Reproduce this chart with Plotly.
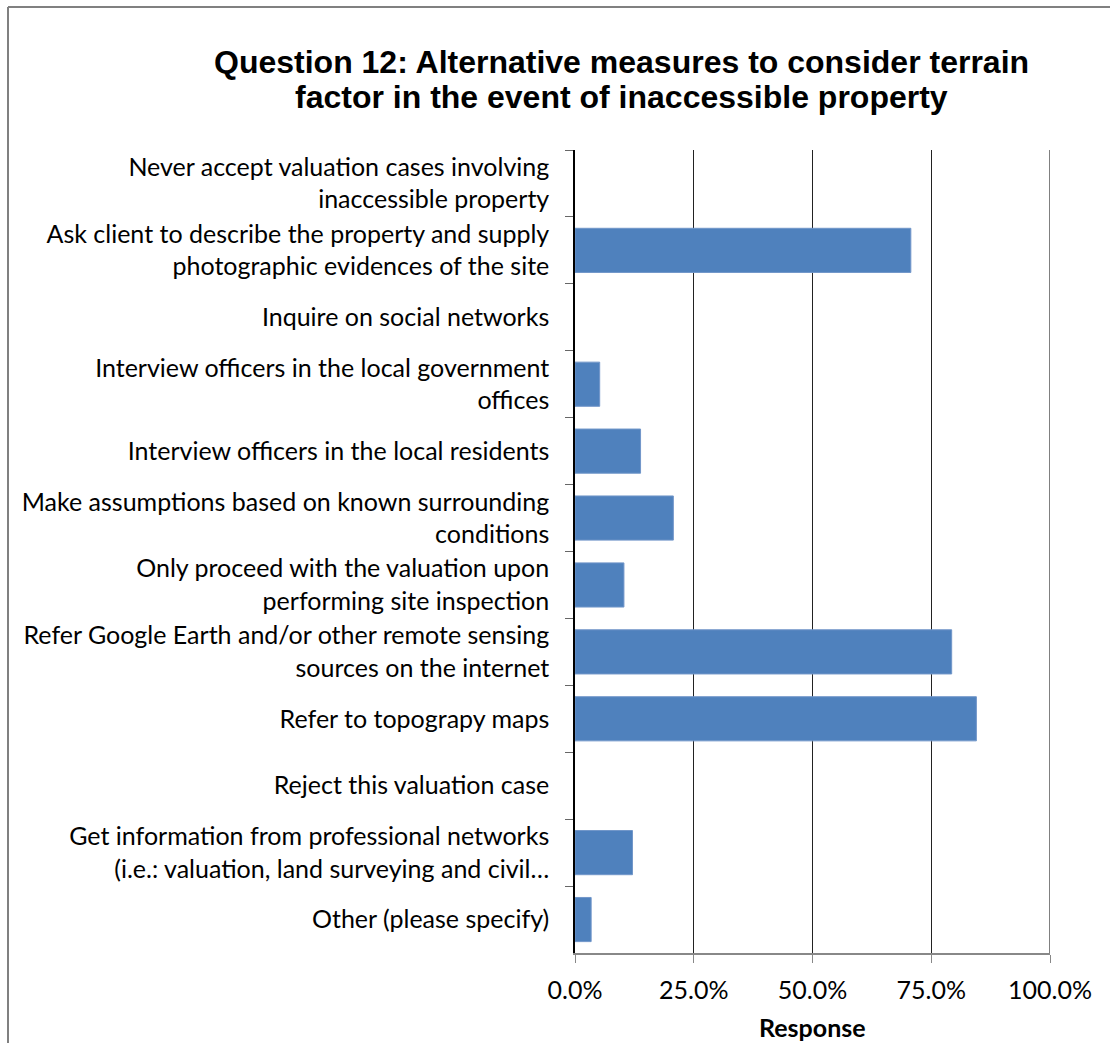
import plotly.graph_objects as go

# Survey responses (share of respondents, %), listed top to bottom
categories = [
    "Never accept valuation cases involving<br>inaccessible property",
    "Ask client to describe the property and supply<br>photographic evidences of the site",
    "Inquire on social networks",
    "Interview officers in the local government<br>offices",
    "Interview officers in the local residents",
    "Make assumptions based on known surrounding<br>conditions",
    "Only proceed with the valuation upon<br>performing site inspection",
    "Refer Google Earth and/or other remote sensing<br>sources on the internet",
    "Refer to topograpy maps",
    "Reject this valuation case",
    "Get information from professional networks<br>(i.e.: valuation, land surveying and civil…",
    "Other (please specify)",
]
response_pct = [0.0, 70.7, 0.0, 5.2, 13.8, 20.7, 10.3, 79.3, 84.5, 0.0, 12.1, 3.4]

x_ticks = [0, 25, 50, 75, 100]
x_tick_labels = ["0.0%", "25.0%", "50.0%", "75.0%", "100.0%"]

title_lines = [
    "Question 12: Alternative measures to consider terrain",
    "factor in the event of inaccessible property",
]
x_title = "Response"

W, H = 1110, 1043
ML, MR, MT, MB = 575, 60, 150, 90
plot_w = W - ML - MR
plot_h = H - MT - MB


def px_x(x):
    return (x - ML) / plot_w


def px_y(y):
    return (H - MB - y) / plot_h


label_font = "Lato, 'Open Sans', sans-serif"
label_size = 25

# no outline on empty bars so nothing is drawn for zero responses
outline_widths = [1 if v > 0 else 0 for v in response_pct]

fig = go.Figure(
    go.Bar(
        x=response_pct,
        y=categories,
        orientation="h",
        marker=dict(color="#4F81BD", line=dict(color="#7196C9", width=outline_widths)),
        hoverinfo="x+y",
    )
)

fig.update_layout(
    width=W,
    height=H,
    margin=dict(l=ML, r=MR, t=MT, b=MB),
    paper_bgcolor="white",
    plot_bgcolor="white",
    bargap=0.34,
    showlegend=False,
    font=dict(family=label_font, size=label_size, color="black"),
)

fig.update_xaxes(
    range=[0, 100],
    tickvals=x_ticks,
    ticktext=x_tick_labels,
    showgrid=True,
    gridcolor="#222222",
    gridwidth=1,
    zeroline=False,
    showline=True,
    linecolor="#888888",
    linewidth=1.5,
    ticks="outside",
    ticklen=8,
    tickcolor="#888888",
    ticklabelstandoff=6,
    tickfont=dict(family=label_font, size=label_size, color="black"),
    fixedrange=True,
)

fig.update_yaxes(
    type="category",
    categoryorder="array",
    categoryarray=categories,
    autorange="reversed",
    showgrid=False,
    zeroline=False,
    showline=True,
    linecolor="black",
    linewidth=1.5,
    ticks="outside",
    tickson="boundaries",
    ticklen=8,
    tickcolor="#666666",
    ticklabelstandoff=19,
    tickfont=dict(family=label_font, size=label_size, color="black"),
    fixedrange=True,
)

# Right edge of the value scale is drawn in grey
fig.add_shape(type="line", xref="x", yref="paper",
              x0=100, x1=100, y0=0, y1=1,
              line=dict(color="#808080", width=2))

# Chart title (two centred lines)
for line, ypx in zip(title_lines, [62, 97]):
    fig.add_annotation(
        text=f"<b>{line}</b>",
        xref="paper", yref="paper",
        x=px_x(621), y=px_y(ypx),
        xanchor="center", yanchor="middle",
        showarrow=False,
        font=dict(family="'Liberation Sans', Arial, sans-serif", size=32, color="black"),
    )

# Horizontal axis title
fig.add_annotation(
    text=f"<b>{x_title}</b>",
    xref="paper", yref="paper",
    x=px_x(812), y=px_y(1027),
    xanchor="center", yanchor="middle",
    showarrow=False,
    font=dict(family=label_font, size=label_size, color="black"),
)

# Chart-area border (left and top edges)
border = dict(color="#808080", width=2)
fig.add_shape(type="line", xref="paper", yref="paper",
              x0=px_x(8), x1=px_x(8), y0=px_y(7), y1=px_y(H + 5), line=border)
fig.add_shape(type="line", xref="paper", yref="paper",
              x0=px_x(8), x1=px_x(W + 5), y0=px_y(7), y1=px_y(7), line=border)

fig.write_html("out.html")
